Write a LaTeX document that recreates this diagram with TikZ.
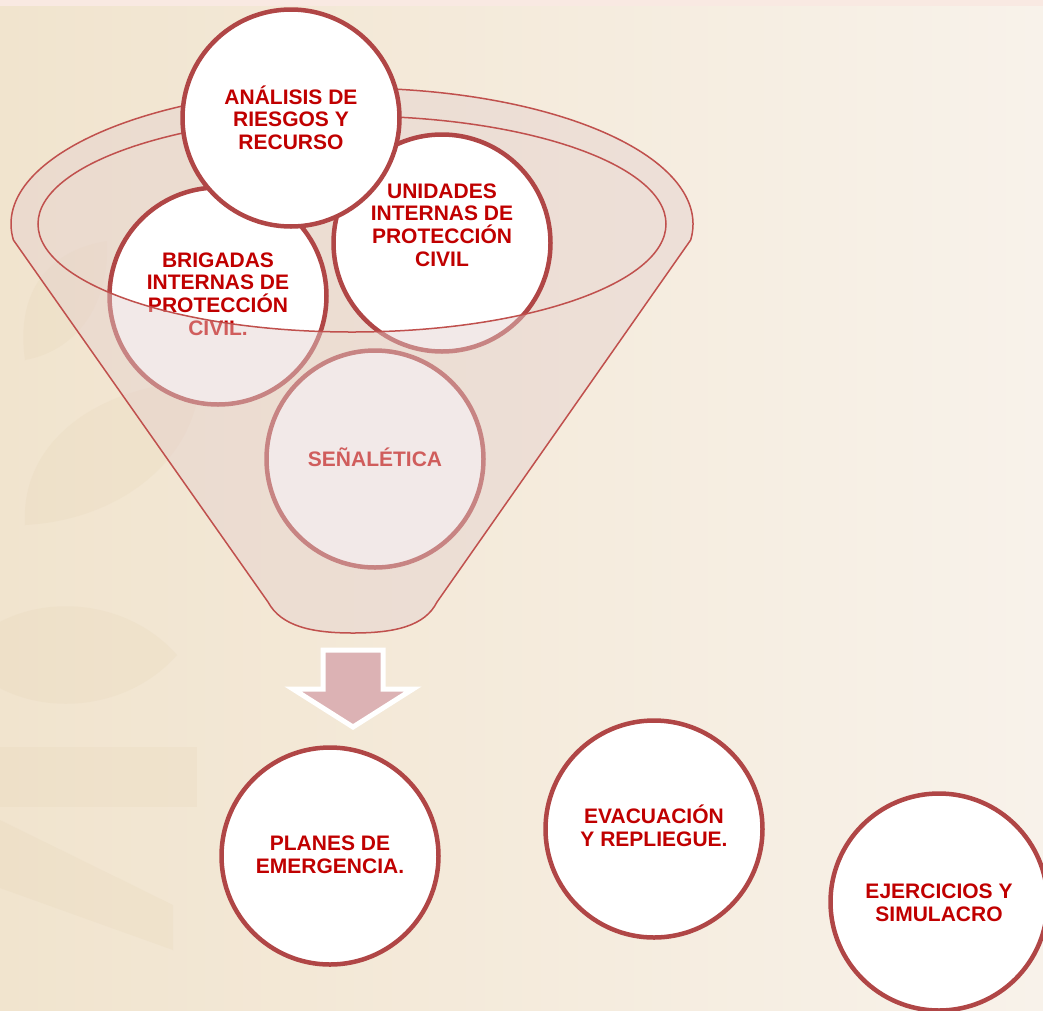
\documentclass[tikz,border=0pt]{standalone}
\usepackage{fontspec}
\setmainfont{Liberation Sans}
\definecolor{bgL}{RGB}{241,228,206}
\definecolor{bgR}{RGB}{248,242,234}
\definecolor{wm}{RGB}{226,208,176}
\definecolor{tint}{RGB}{228,208,206}
\definecolor{fline}{RGB}{192,80,77}
\definecolor{cline}{RGB}{176,70,70}
\definecolor{txt}{RGB}{192,0,0}
\definecolor{arrowfill}{RGB}{220,178,180}
\definecolor{topstrip}{RGB}{249,233,226}
\begin{document}
\begin{tikzpicture}[x=1pt,y=-1pt,
  circ/.style={circle, draw=cline, line width=4.5pt, fill=white, minimum size=217pt, inner sep=0pt},
  lbl/.style={font=\fontsize{21}{22.7}\selectfont\bfseries, text=txt, align=center, inner sep=0pt},
  tintfill/.style={fill=tint, fill opacity=0.45},
  funline/.style={draw=fline, line width=1.5pt},
  wmark/.style={fill=wm, fill opacity=0.18},
  blockarrow/.style={draw=white, line width=5pt, fill=arrowfill, line join=miter}
]
\useasboundingbox (0,0) rectangle (1043,1010);
\clip (0,0) rectangle (1043,1010);
% background
\shade[left color=bgL, right color=bgR] (0,0) rectangle (1043,1010);
\fill[topstrip] (0,0) rectangle (1043,6);
% faint watermark shapes
\fill[wmark] (25,360) .. controls (15,290) and (50,250) .. (107,241) .. controls (110,300) and (80,350) .. (25,360) -- cycle;
\fill[wmark] (25,525) .. controls (20,440) and (100,385) .. (200,381) .. controls (195,460) and (120,520) .. (25,525) -- cycle;
\fill[wmark] (-40,655) .. controls (10,590) and (120,590) .. (177,655) .. controls (120,720) and (10,720) .. (-40,655) -- cycle;
\fill[wmark] (0,747) rectangle (197,807);
\fill[wmark] (0,820) -- (173,905) -- (173,950) -- (0,888) -- cycle;
% funnel back (inside of the rim)
\fill[tintfill] (352,224) ellipse [x radius=314pt, y radius=108pt];
% circles inside the funnel
\node[circ] (bri) at (218,296) {};
\node[lbl] (bri-t) at (218,294) {BRIGADAS\\INTERNAS DE\\PROTECCIÓN\\CIVIL.};
\node[circ] (uni) at (442,243) {};
\node[lbl] (uni-t) at (442,225) {UNIDADES\\INTERNAS DE\\PROTECCIÓN\\CIVIL};
\node[circ] (sen) at (375,459) {};
\node[lbl] (sen-t) at (375,457) {SEÑALÉTICA};
% funnel front (translucent body)
\fill[tintfill, even odd rule] (13.4,240) arc[start angle=186.75, end angle=-6.75, x radius=341pt, y radius=136pt]
  -- (437,602) .. controls (425,626) and (395,633) .. (353,633) .. controls (311,633) and (281,626) .. (268,602) -- cycle
  (352,224) ellipse [x radius=314pt, y radius=108pt];
\draw[funline] (13.4,240) arc[start angle=186.75, end angle=-6.75, x radius=341pt, y radius=136pt]
  -- (437,602) .. controls (425,626) and (395,633) .. (353,633) .. controls (311,633) and (281,626) .. (268,602) -- cycle;
\draw[funline] (352,224) ellipse [x radius=314pt, y radius=108pt];
% top circle
\node[circ] (ana) at (291,118) {};
\node[lbl] (ana-t) at (291,117.5) {ANÁLISIS DE\\RIESGOS Y\\RECURSO};
% block arrow
\draw[blockarrow] (323,650) -- (383,650) -- (383,689) -- (413,689) -- (353,727) -- (293,689) -- (323,689) -- cycle;
% bottom circles
\node[circ] (pla) at (330,856) {};
\node[lbl] (pla-t) at (330,854.5) {PLANES DE\\EMERGENCIA.};
\node[circ] (eva) at (654,829) {};
\node[lbl] (eva-t) at (654,826) {EVACUACIÓN\\Y REPLIEGUE.};
\node[circ] (eje) at (939,902) {};
\node[lbl] (eje-t) at (939,902.5) {EJERCICIOS Y\\SIMULACRO};
\end{tikzpicture}
\end{document}
